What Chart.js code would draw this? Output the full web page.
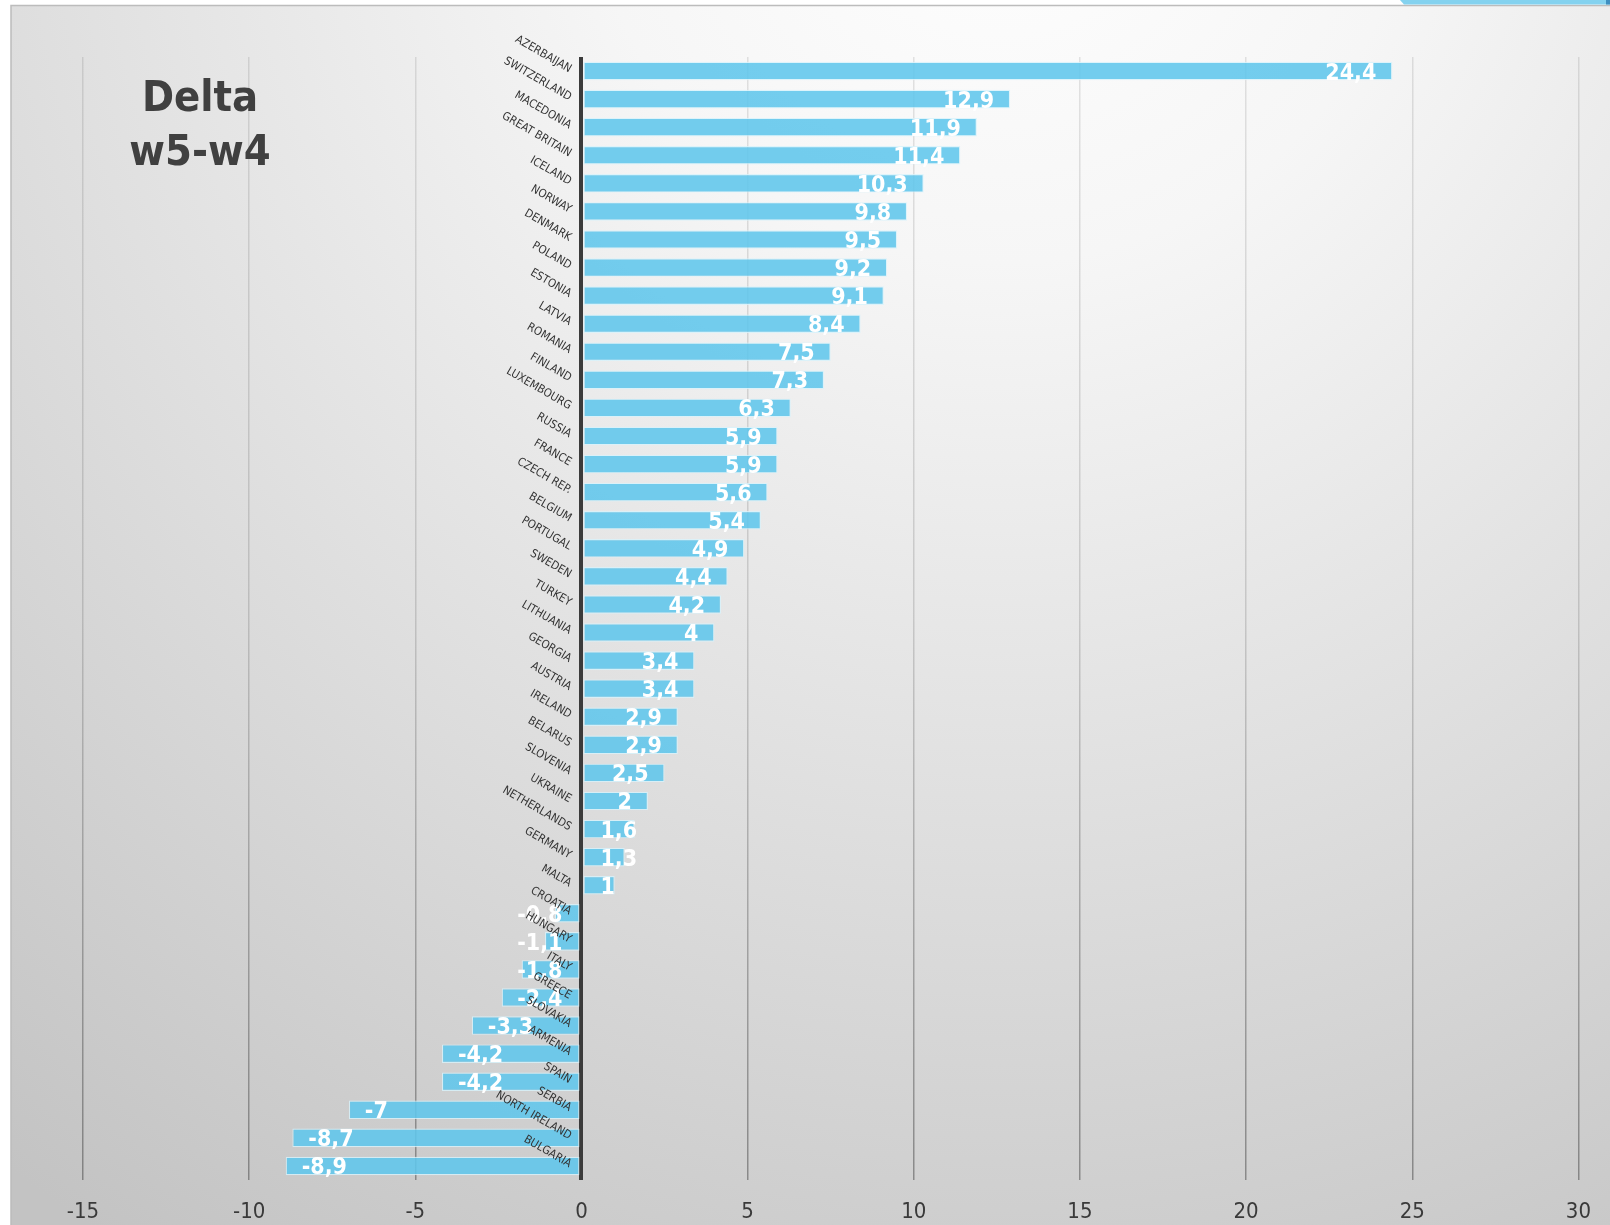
<!DOCTYPE html>
<html>
<head>
<meta charset="utf-8">
<script src="https://cdn.jsdelivr.net/npm/chart.js@4.4.1/dist/chart.umd.min.js"></script>
<style>
  html, body { margin: 0; padding: 0; background: #ffffff; overflow: hidden; }
  #wrap { position: relative; width: 1610px; height: 1225px; }
  canvas { display: block; }
</style>
</head>
<body>
<div id="wrap"><canvas id="c" width="1610" height="1225"></canvas></div>
<script>
// ---- data ----
const categories = [
  "AZERBAIJAN", "SWITZERLAND", "MACEDONIA", "GREAT BRITAIN", "ICELAND",
  "NORWAY", "DENMARK", "POLAND", "ESTONIA", "LATVIA",
  "ROMANIA", "FINLAND", "LUXEMBOURG", "RUSSIA", "FRANCE",
  "CZECH REP.", "BELGIUM", "PORTUGAL", "SWEDEN", "TURKEY",
  "LITHUANIA", "GEORGIA", "AUSTRIA", "IRELAND", "BELARUS",
  "SLOVENIA", "UKRAINE", "NETHERLANDS", "GERMANY", "MALTA",
  "CROATIA", "HUNGARY", "ITALY", "GREECE", "SLOVAKIA",
  "ARMENIA", "SPAIN", "SERBIA", "NORTH IRELAND", "BULGARIA"
];
const deltaValues = [
  24.4, 12.9, 11.9, 11.4, 10.3,
  9.8, 9.5, 9.2, 9.1, 8.4,
  7.5, 7.3, 6.3, 5.9, 5.9,
  5.6, 5.4, 4.9, 4.4, 4.2,
  4, 3.4, 3.4, 2.9, 2.9,
  2.5, 2, 1.6, 1.3, 1,
  -0.8, -1.1, -1.8, -2.4, -3.3,
  -4.2, -4.2, -7, -8.7, -8.9
];
const xMin = -15;
const xMax = 30;
const xStep = 5;
const titleLines = ["Delta", "w5-w4"];

const fmt = v => String(v).replace('.', ',');

// ---- plugins ----
const backgroundPlugin = {
  id: 'slideBackground',
  beforeDraw(chart) {
    const { ctx, width, height } = chart;
    ctx.save();
    ctx.fillStyle = '#ffffff';
    ctx.fillRect(0, 0, width, height);
    const g = ctx.createRadialGradient(1000, -150, 0, 1000, -150, 1650);
    g.addColorStop(0, '#ffffff');
    g.addColorStop(0.25, '#f6f6f6');
    g.addColorStop(1, '#c3c3c3');
    ctx.fillStyle = g;
    ctx.fillRect(11, 5, width - 11, height - 5);
    ctx.strokeStyle = '#bcbcbc';
    ctx.lineWidth = 1.5;
    ctx.beginPath();
    ctx.moveTo(11, height);
    ctx.lineTo(11, 5.5);
    ctx.lineTo(width, 5.5);
    ctx.stroke();
    // piece of the slide decoration at top right
    ctx.fillStyle = '#84d2ef';
    ctx.beginPath();
    ctx.moveTo(1400, 0); ctx.lineTo(1610, 0); ctx.lineTo(1610, 4.5); ctx.lineTo(1404, 4.5);
    ctx.closePath(); ctx.fill();
    ctx.fillStyle = '#3f8fc0';
    ctx.fillRect(1606, 0, 4, 4.5);
    ctx.restore();
  }
};

const labelPlugin = {
  id: 'labelsAndTitle',
  afterDraw(chart) {
    const ctx = chart.ctx;
    const xs = chart.scales.x;
    const ys = chart.scales.y;
    const zero = xs.getPixelForValue(0);
    const meta = chart.getDatasetMeta(0);
    ctx.save();
    // value labels
    ctx.font = 'bold 23px "DejaVu Sans Condensed", "DejaVu Sans", sans-serif';
    ctx.fillStyle = '#ffffff';
    ctx.textBaseline = 'alphabetic';
    ctx.textAlign = 'left';
    meta.data.forEach((bar, i) => {
      const v = chart.data.datasets[0].data[i];
      const txt = fmt(v);
      const w = ctx.measureText(txt).width;
      let left;
      if (v >= 0) left = Math.max(bar.x - 16 - w, zero + 19);
      else left = Math.min(bar.x + 16, zero - 19 - w);
      ctx.fillText(txt, left, bar.y + 8.5);
    });
    // category labels, rotated, next to the zero line
    ctx.font = '11.5px "DejaVu Sans Condensed", "DejaVu Sans", sans-serif';
    ctx.fillStyle = '#333333';
    ctx.textAlign = 'right';
    ctx.textBaseline = 'middle';
    chart.data.labels.forEach((lab, i) => {
      const y = ys.getPixelForValue(i);
      ctx.save();
      ctx.translate(zero - 11, y - 1);
      ctx.rotate(30 * Math.PI / 180);
      ctx.fillText(lab, 0, 0);
      ctx.restore();
    });
    // title
    ctx.font = 'bold 43px "DejaVu Sans Condensed", "DejaVu Sans", sans-serif';
    ctx.fillStyle = '#404040';
    ctx.textAlign = 'center';
    ctx.textBaseline = 'alphabetic';
    ctx.fillText(titleLines[0], 200, 111);
    ctx.fillText(titleLines[1], 200, 165);
    ctx.restore();
  }
};

let gridGrad = null, gridGradKey = '';
function gridColor(c) {
  if (c.tick && c.tick.value === 0) return '#3b3b3b';
  const ca = c.chart.chartArea;
  if (!ca) return 'rgba(0,0,0,0.2)';
  const key = ca.top + '-' + ca.bottom;
  if (!gridGrad || key !== gridGradKey) {
    const g = c.chart.ctx.createLinearGradient(0, ca.top, 0, ca.bottom);
    g.addColorStop(0, 'rgba(0,0,0,0.10)');
    g.addColorStop(0.5, 'rgba(0,0,0,0.14)');
    g.addColorStop(1, 'rgba(0,0,0,0.34)');
    gridGrad = g; gridGradKey = key;
  }
  return gridGrad;
}

new Chart(document.getElementById('c'), {
  type: 'bar',
  data: {
    labels: categories,
    datasets: [{
      data: deltaValues,
      backgroundColor: 'rgba(96,198,236,0.88)',
      borderColor: 'rgba(215,242,251,0.8)',
      borderWidth: 1.2,
      borderSkipped: false,
      barPercentage: 0.66,
      categoryPercentage: 1
    }]
  },
  options: {
    indexAxis: 'y',
    responsive: false,
    devicePixelRatio: 1,
    animation: false,
    layout: { padding: { left: 83, right: 29, top: 57, bottom: 0 } },
    plugins: { legend: { display: false }, tooltip: { enabled: false }, title: { display: false } },
    scales: {
      x: {
        type: 'linear',
        min: xMin,
        max: xMax,
        z: 1,
        ticks: {
          stepSize: xStep,
          color: '#3a3a3a',
          padding: 19,
          font: { family: '"DejaVu Sans Condensed", "DejaVu Sans", sans-serif', size: 22 }
        },
        grid: {
          drawTicks: false,
          color: gridColor,
          lineWidth: c => (c.tick && c.tick.value === 0) ? 4 : 1.5
        },
        border: { display: false },
        afterFit(scale) { scale.height = 45; }
      },
      y: {
        type: 'category',
        display: false
      }
    }
  },
  plugins: [backgroundPlugin, labelPlugin]
});
</script>
</body>
</html>
